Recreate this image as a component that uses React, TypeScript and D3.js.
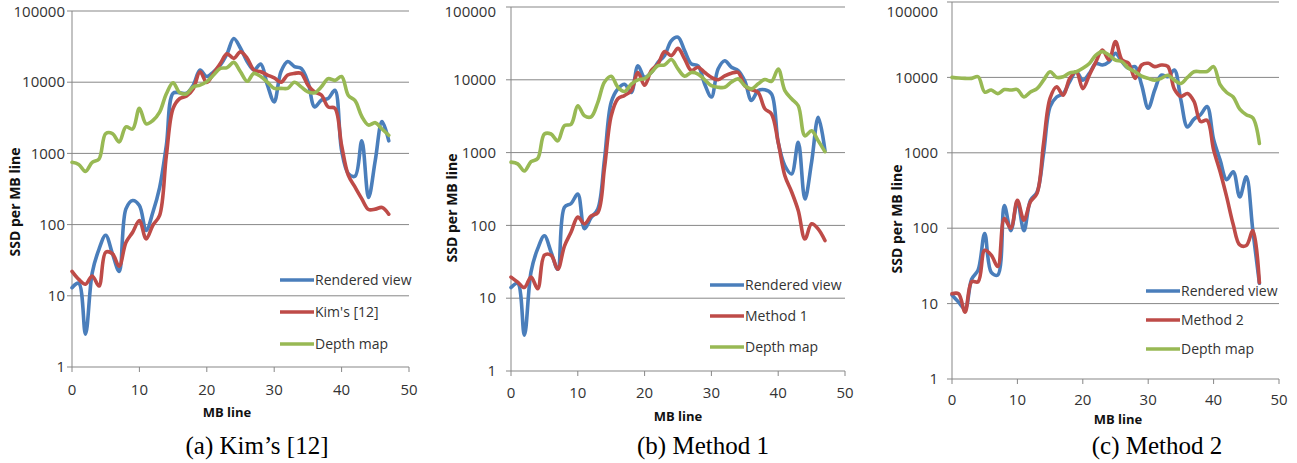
import * as d3 from 'd3'

const yTicks = [1, 10, 100, 1000, 10000, 100000]
const xTicks = [0, 10, 20, 30, 40, 50]
const seriesNames = ['Rendered view', '', 'Depth map']

// (a) Kim's [12]
const kimRendered = [13, 15, 2.9, 21, 45, 71, 39, 22, 166, 218, 185, 83, 149, 330, 1300, 7000, 7100, 7000, 9100, 14800, 12000, 14000, 17400, 25000, 41000, 30000, 19400, 14900, 18000, 9100, 5300, 14000, 19500, 16600, 15600, 10100, 4500, 5600, 5900, 7700, 1100, 520, 480, 1500, 240, 800, 2800, 1500]
const kimMethod = [22, 17, 14.5, 19, 13.7, 41, 39, 26, 56, 78, 114, 63, 98, 135, 930, 4300, 5900, 6400, 8100, 14000, 9900, 13300, 18300, 25000, 21600, 26700, 21600, 14800, 14000, 12600, 11500, 10000, 12600, 13300, 13300, 9100, 7300, 6600, 4500, 4300, 1300, 490, 335, 230, 163, 165, 174, 140]
const kimDepth = [750, 700, 560, 750, 830, 1900, 1900, 1450, 2350, 2200, 4300, 2600, 2900, 3800, 6900, 9800, 7100, 6900, 8600, 9100, 10200, 12600, 15600, 16000, 19000, 14000, 10300, 13300, 12000, 10000, 8200, 8200, 8200, 10000, 8600, 7300, 7100, 8600, 11200, 10600, 12000, 6500, 5500, 3300, 2500, 2700, 2200, 1800]

// (b) Method 1
const m1Rendered = [14, 16, 3.1, 23, 48, 72, 43, 25, 178, 200, 270, 90, 128, 168, 810, 4900, 7500, 8700, 6700, 15600, 10800, 12600, 17300, 21600, 34500, 38500, 25000, 16500, 15600, 8700, 5800, 14100, 18300, 14900, 13400, 9600, 5200, 7100, 7300, 6400, 1380, 660, 510, 1380, 230, 740, 3050, 1070]
const m1Method = [19.5, 16.6, 14, 19.5, 13.5, 39, 39, 25, 52, 81, 130, 105, 135, 150, 620, 3200, 5500, 6100, 7100, 12600, 8400, 13400, 16500, 24500, 21500, 27000, 19300, 13400, 14900, 12600, 10800, 10000, 11300, 12300, 12600, 8300, 7300, 6700, 4000, 3400, 1380, 480, 290, 160, 65, 105, 89, 62]
const m1Depth = [740, 700, 560, 750, 830, 1800, 1800, 1450, 2350, 2450, 4400, 3200, 3100, 4900, 9300, 11200, 7900, 6900, 8700, 10000, 10400, 12600, 15600, 16000, 19000, 14100, 11200, 12600, 12000, 10000, 8300, 7900, 7900, 9300, 10300, 8300, 7500, 8800, 10100, 9500, 14100, 7100, 5500, 4400, 1700, 2000, 1450, 1030]

// (c) Method 2
const m2Rendered = [13, 10.5, 8.5, 21, 28, 85, 26, 24, 200, 93, 225, 93, 235, 300, 980, 4100, 5500, 6100, 8800, 11900, 9200, 11300, 15300, 14600, 16100, 20800, 16100, 13200, 13900, 7900, 3900, 6800, 10700, 10200, 12500, 5000, 2200, 2800, 3200, 4100, 1500, 800, 440, 560, 260, 480, 93, 18.6]
const m2Method = [13.5, 13.5, 7.7, 19.5, 19.5, 51, 44, 31, 134, 100, 235, 128, 225, 290, 1330, 5300, 7500, 5800, 9700, 11900, 7100, 10700, 16100, 23100, 17000, 29800, 17000, 15400, 9700, 14600, 15400, 13900, 14600, 14000, 7000, 5600, 6100, 4800, 2600, 2700, 1100, 560, 260, 112, 60, 59, 93, 19]
const m2Depth = [10000, 9800, 9700, 9700, 10200, 6400, 6800, 6100, 6900, 6800, 6900, 5500, 6400, 7100, 9200, 11900, 10000, 10200, 11500, 11900, 13200, 15300, 19800, 22000, 19800, 17000, 16100, 13200, 11900, 10400, 9700, 9200, 9700, 10700, 9200, 8300, 10000, 11900, 11900, 12000, 13900, 8000, 6300, 5500, 3800, 3200, 2900, 1330]

const COLORS = ['#4A7EBB', '#BE4B48', '#98B954']
const GRID = '#878787'
const SANS = '"Open Sans", "Noto Sans", sans-serif'

const panels = [
  {
    key: 'a', method: "Kim's [12]", caption: '(a) Kim\u2019s [12]', data: [kimRendered, kimMethod, kimDepth],
    x0: 72, x1: 409, top: 11, bottom: 367, tickRight: 65, tickY: 390,
    yTitle: [15, 202], xTitle: [227, 412], cap: [257, 445], legend: [280, 280, 32],
  },
  {
    key: 'b', method: 'Method 1', caption: '(b) Method 1', data: [m1Rendered, m1Method, m1Depth],
    x0: 511, x1: 845, top: 7, bottom: 371, tickRight: 496, tickY: 393,
    yTitle: [452, 208], xTitle: [678, 416], cap: [703, 445], legend: [710, 285, 31],
  },
  {
    key: 'c', method: 'Method 2', caption: '(c) Method 2', data: [m2Rendered, m2Method, m2Depth],
    x0: 952, x1: 1279, top: 2, bottom: 379, tickRight: 938, tickY: 400,
    yTitle: [897, 219], xTitle: [1118, 419], cap: [1157, 445], legend: [1146, 291, 29],
  },
]

function Panel({ p }) {
  const x = d3.scaleLinear().domain([0, 50]).range([p.x0, p.x1])
  const y = d3.scaleLog().domain([1, 100000]).range([p.bottom, p.top])
  const line = d3
    .line<number>()
    .x((_, i) => x(i))
    .y((d) => y(d))
    .curve(d3.curveCatmullRom.alpha(0.5))

  return (
    <g>
      {/* gridlines + y ticks (top label kept inside the page) */}
      {yTicks.map((t) => (
        <g key={t}>
          <line x1={p.x0 - 5} x2={p.x1} y1={y(t)} y2={y(t)} stroke={GRID} strokeWidth={1} />
          <text x={p.tickRight} y={Math.max(y(t), 12)} dy="0.35em" textAnchor="end" fontSize={15} fill="#333" fontFamily={SANS}>
            {t}
          </text>
        </g>
      ))}
      <line x1={p.x0} x2={p.x0} y1={p.top} y2={p.bottom} stroke={GRID} strokeWidth={1} />
      {xTicks.map((t) => (
        <g key={t}>
          <line x1={x(t)} x2={x(t)} y1={p.bottom} y2={p.bottom + 5} stroke={GRID} strokeWidth={1} />
          <text x={x(t)} y={p.tickY} dy="0.35em" textAnchor="middle" fontSize={15} fill="#333" fontFamily={SANS}>
            {t}
          </text>
        </g>
      ))}

      {p.data.map((d, i) => (
        <path key={i} d={line(d)} fill="none" stroke={COLORS[i]} strokeWidth={3.6} strokeLinejoin="round" strokeLinecap="round" />
      ))}

      {/* legend */}
      {p.data.map((_, i) => {
        const ly = p.legend[1] + i * p.legend[2]
        return (
          <g key={i}>
            <line x1={p.legend[0]} x2={p.legend[0] + 34} y1={ly} y2={ly} stroke={COLORS[i]} strokeWidth={3.6} />
            <text x={p.legend[0] + 35} y={ly} dy="0.35em" fontSize={14} fill="#333" fontFamily={SANS}>
              {i === 1 ? p.method : seriesNames[i]}
            </text>
          </g>
        )
      })}

      <text
        transform={`translate(${p.yTitle[0]},${p.yTitle[1]}) rotate(-90)`}
        dy="0.35em" textAnchor="middle" fontSize={14} fontWeight="bold" fill="#111" fontFamily={SANS}
      >
        SSD per MB line
      </text>
      <text x={p.xTitle[0]} y={p.xTitle[1]} dy="0.35em" textAnchor="middle" fontSize={13} fontWeight="bold" fill="#111" fontFamily={SANS}>
        MB line
      </text>
      <text x={p.cap[0]} y={p.cap[1]} dy="0.35em" textAnchor="middle" fontSize={25} fill="#000" fontFamily='"Liberation Serif", "Times New Roman", serif'>
        {p.caption}
      </text>
    </g>
  )
}

export default function App() {
  return (
    <svg width={1297} height={463} style={{ position: 'absolute', left: 0, top: 0, background: '#fff' }}>
      {panels.map((p) => (
        <Panel key={p.key} p={p} />
      ))}
    </svg>
  )
}
